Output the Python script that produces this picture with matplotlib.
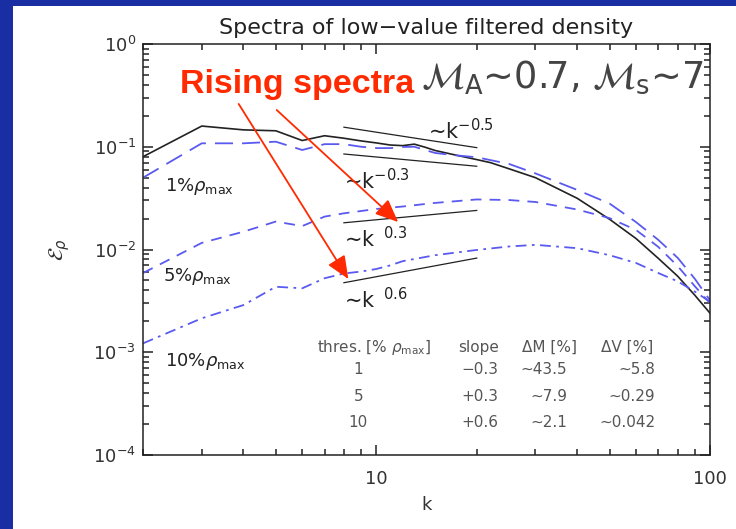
import numpy as np
import matplotlib
matplotlib.use('Agg')
import matplotlib.pyplot as plt
from matplotlib.patches import Rectangle
from matplotlib.ticker import FixedLocator, FixedFormatter, NullFormatter

plt.rcParams['mathtext.fontset'] = 'dejavusans'
plt.rcParams['font.family'] = ['DejaVu Sans']

# unfiltered (black)
k_all = [2, 3, 4, 5, 6, 7, 8, 9, 10, 11, 12, 13, 14, 15, 17, 20, 22, 25, 30, 40, 50, 60, 70, 80, 90, 100]
e_all = [0.080, 0.159, 0.146, 0.143, 0.115, 0.128, 0.121, 0.114, 0.109, 0.104, 0.1025, 0.106, 0.099, 0.092,
         0.084, 0.075, 0.070, 0.061, 0.050, 0.0315, 0.0197, 0.0128, 0.0082, 0.0055, 0.0036, 0.0024]

# 1% rho_max (long dashes)
k_1 = [2, 3, 4, 5, 6, 7, 8, 9, 10, 11, 12, 13, 15, 17, 20, 25, 30, 40, 50, 60, 70, 80, 90, 100]
e_1 = [0.050, 0.108, 0.108, 0.112, 0.093, 0.106, 0.106, 0.100, 0.097, 0.097, 0.0995, 0.100, 0.087,
       0.083, 0.079, 0.068, 0.055, 0.038, 0.028, 0.0185, 0.0124, 0.0083, 0.0052, 0.0032]

# 5% rho_max (short dashes)
k_5 = [2, 3, 4, 5, 6, 7, 8, 10, 12, 15, 20, 25, 30, 40, 50, 60, 70, 80, 90, 100]
e_5 = [0.0059, 0.0116, 0.0149, 0.0187, 0.0169, 0.0209, 0.0225, 0.0248, 0.0262, 0.0284, 0.0307, 0.0303,
       0.0290, 0.0245, 0.0202, 0.0155, 0.0106, 0.0069, 0.0044, 0.0030]

# 10% rho_max (dash-dot)
k_10 = [2, 3, 4, 5, 6, 7, 8, 9, 10, 11, 12, 15, 20, 25, 30, 40, 50, 60, 70, 80, 90, 100]
e_10 = [0.00122, 0.00214, 0.00288, 0.00434, 0.00419, 0.00525, 0.00584, 0.0061, 0.00646, 0.0070, 0.0077,
        0.0088, 0.0099, 0.0107, 0.0111, 0.0103, 0.0088, 0.0074, 0.0059, 0.0049, 0.0039, 0.0031]

# power-law guide lines, endpoints at k=8 and k=20
k_ref = [8, 20]
ref_m05 = [0.155, 0.098]
ref_m03 = [0.085, 0.0646]
ref_p03 = [0.0182, 0.0240]
ref_p06 = [0.00475, 0.00825]

table_head = ['thres. [% $\\rho_{\\rm max}$]', 'slope', '\u0394M [%]', '\u0394V [%]']
thres = ['1', '5', '10']
slopes = ['\u22120.3', '+0.3', '+0.6']
dM = ['\u223c43.5', '\u223c7.9', '\u223c2.1']
dV = ['\u223c5.8', '\u223c0.29', '\u223c0.042']

fig = plt.figure(figsize=(7.36, 5.29), dpi=100, facecolor='white')
bg = '#1a2ea4'
fig.patches.append(Rectangle((0, 0), 13 / 736, 1, transform=fig.transFigure,
                             facecolor=bg, edgecolor='none', zorder=-10))
fig.patches.append(Rectangle((0, 523 / 529), 1, 6 / 529, transform=fig.transFigure,
                             facecolor=bg, edgecolor='none', zorder=-10))
ax = fig.add_axes([143 / 736, 1 - 455 / 529, 567 / 736, 411 / 529])

blue = '#5a5af0'
ink = '#222222'
ax.plot(k_all, e_all, color=ink, lw=1.2)
ax.plot(k_1, e_1, color=blue, lw=1.3, dashes=(10, 5))
ax.plot(k_5, e_5, color=blue, lw=1.3, dashes=(6, 4.5))
ax.plot(k_10, e_10, color=blue, lw=1.3, dashes=(6, 3, 1.5, 3))
for r in (ref_m05, ref_m03, ref_p03, ref_p06):
    ax.plot(k_ref, r, color=ink, lw=0.9)

ax.set_xscale('log')
ax.set_yscale('log')
ax.set_xlim(2, 100)
ax.set_ylim(1e-4, 1)

ax.xaxis.set_major_locator(FixedLocator([10, 100]))
ax.xaxis.set_major_formatter(FixedFormatter(['10', '100']))
ax.xaxis.set_minor_locator(FixedLocator([2, 3, 4, 5, 6, 7, 8, 9, 20, 30, 40, 50, 60, 70, 80, 90]))
ax.xaxis.set_minor_formatter(NullFormatter())
ax.yaxis.set_minor_locator(FixedLocator([m * 10.0 ** e for e in range(-4, 0) for m in range(2, 10)]))
ax.yaxis.set_minor_formatter(NullFormatter())
ax.tick_params(which='both', direction='in', top=True, right=True, color=ink)
ax.tick_params(which='major', length=7, width=1.1, labelsize=13, labelcolor='#333333')
ax.tick_params(which='minor', length=4.5, width=1.1)
ax.tick_params(axis='x', which='major', pad=11)
ax.tick_params(axis='y', which='major', pad=5)
for s in ax.spines.values():
    s.set_linewidth(1.1)
    s.set_color(ink)

ax.set_title('Spectra of low\u2212value filtered density', fontsize=16, color='#222222', pad=7)
ax.set_xlabel('k', fontsize=13, color='#333333')
ax.xaxis.set_label_coords(0.5, -0.10)
ax.set_ylabel('$\\mathcal{E}_\\rho$', fontsize=15, color='#333333')
ax.yaxis.set_label_coords(-0.125, 0.5)

ax.text(36, 0.47, '$\\mathcal{M}_{\\rm A}$\u223c0.7, $\\mathcal{M}_{\\rm s}$\u223c7', fontsize=26.5,
        color='#444444', ha='center', va='center')

lab = dict(fontsize=13, color=ink, ha='left', va='center')
ax.text(2.33, 0.0406, '1%$\\rho_{\\rm max}$', **lab)
ax.text(2.30, 0.00552, '5%$\\rho_{\\rm max}$', **lab)
ax.text(2.32, 0.000804, '10%$\\rho_{\\rm max}$', **lab)

pw = dict(fontsize=15, color=ink, ha='left', va='baseline')
ax.text(14.3, 0.119, '\u223ck$^{-0.5}$', **pw)
ax.text(8.03, 0.0388, '\u223ck$^{-0.3}$', **pw)
ax.text(8.03, 0.01057, '\u223ck$^{\\ \\ 0.3}$', **pw)
ax.text(8.03, 0.0027, '\u223ck$^{\\ \\ 0.6}$', **pw)

tc = '#555555'
y_head = 0.00112
y_rows = [0.000672, 0.000367, 0.000205]
for xk, h in zip([9.86, 20.2, 33.0, 56.5], table_head):
    ax.text(xk, y_head, h, fontsize=11, color=tc, ha='center', va='center')
for i, yr in enumerate(y_rows):
    ax.text(8.84, yr, thres[i], fontsize=11, color=tc, ha='center', va='center')
    ax.text(23.3, yr, slopes[i], fontsize=11, color=tc, ha='right', va='center')
    ax.text(37.4, yr, dM[i], fontsize=11, color=tc, ha='right', va='center')
    ax.text(68.5, yr, dV[i], fontsize=11, color=tc, ha='right', va='center')

red = '#ff2a00'
ax.text(5.77, 0.40, 'Rising spectra', fontsize=24.5, fontweight='bold', color=red,
        family=['Liberation Sans'], ha='center', va='center')
arrow = dict(arrowstyle='-|>,head_length=1.4,head_width=0.6', color=red, lw=1.3, shrinkA=0, shrinkB=0)
ax.annotate('', xy=(8.25, 0.00516), xytext=(3.87, 0.261), arrowprops=arrow)
ax.annotate('', xy=(11.63, 0.0185), xytext=(5.03, 0.228), arrowprops=arrow)

fig.savefig('out.png', dpi=100)
